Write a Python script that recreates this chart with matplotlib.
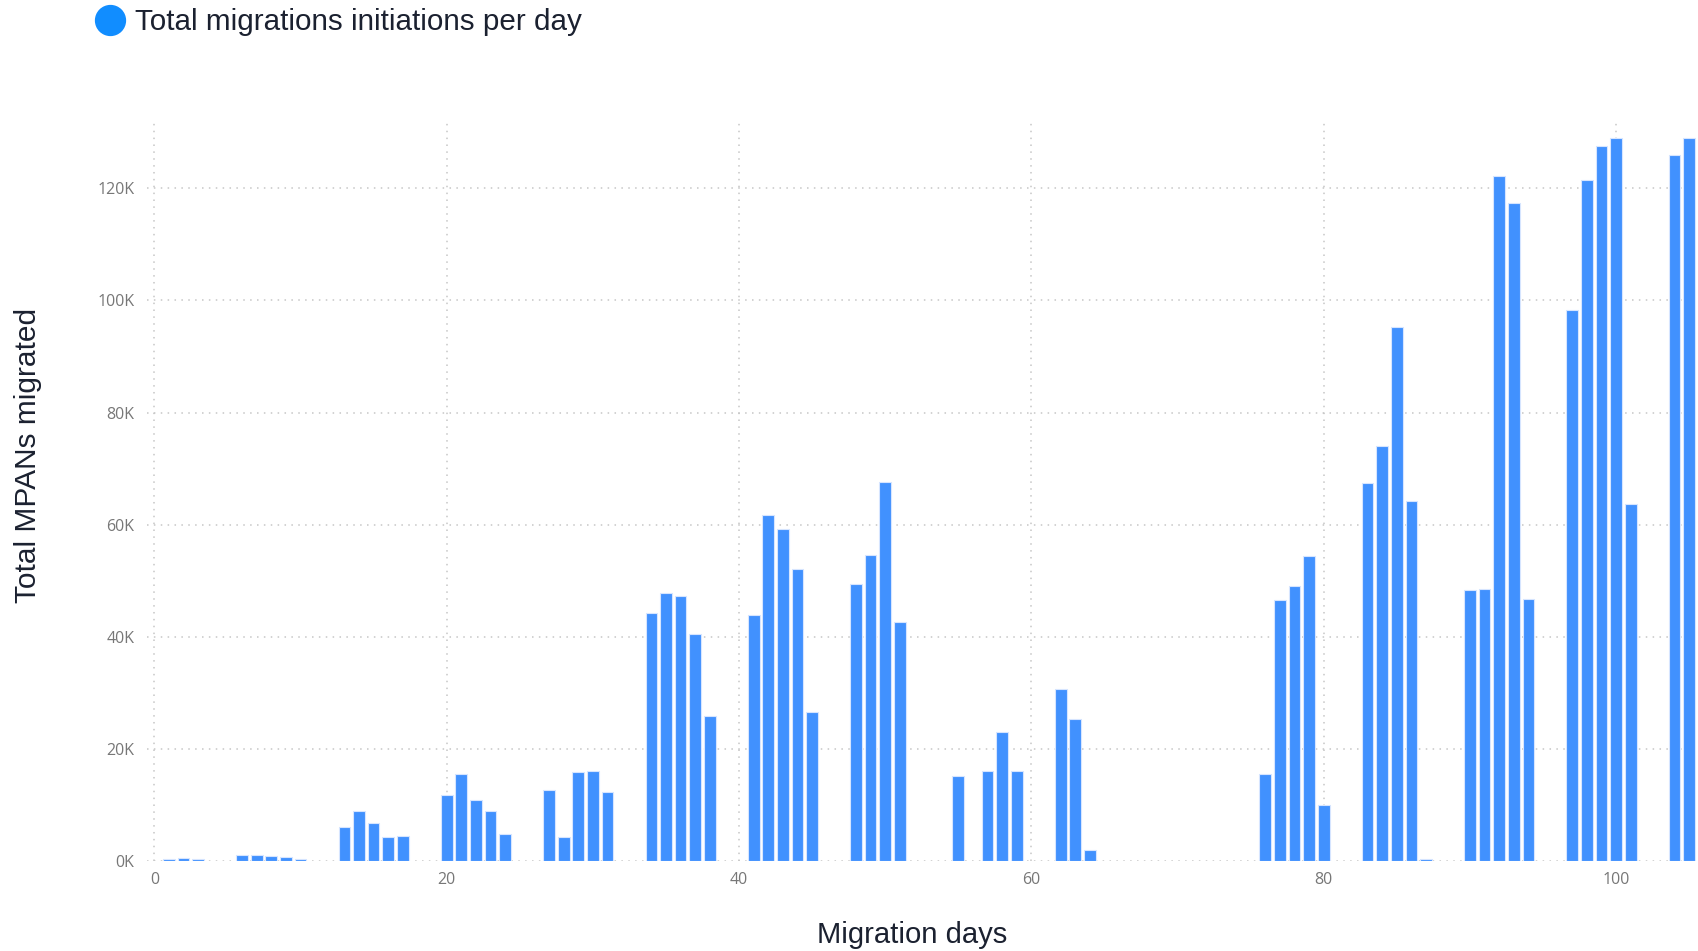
import matplotlib
matplotlib.use("Agg")
import matplotlib.pyplot as plt
from matplotlib.lines import Line2D
from matplotlib.ticker import FuncFormatter

# days with migrations and the count per day
days = [1, 2, 3, 6, 7, 8, 9, 10, 13, 14, 15, 16, 17, 20, 21, 22, 23, 24,
        27, 28, 29, 30, 31, 34, 35, 36, 37, 38, 41, 42, 43, 44, 45,
        48, 49, 50, 51, 55, 57, 58, 59, 62, 63, 64,
        76, 77, 78, 79, 80, 83, 84, 85, 86, 87, 90, 91, 92, 93, 94,
        97, 98, 99, 100, 101, 104, 105]
migrations = [300, 550, 300, 1070, 1130, 830, 710, 300,
              6070, 8900, 6800, 4200, 4500,
              11700, 15600, 10800, 8900, 4760,
              12700, 4300, 15800, 16000, 12300,
              44300, 47800, 47300, 40500, 25800,
              43800, 61800, 59200, 52000, 26600,
              49500, 54600, 67600, 42600,
              15200, 16100, 23100, 16000,
              30700, 25400, 2000,
              15500, 46600, 49100, 54400, 10000,
              67500, 74000, 95200, 64200, 300,
              48400, 48600, 122200, 117300, 46700,
              98300, 121400, 127600, 128900, 63600,
              126000, 128900]

legend_label = "Total migrations initiations per day"
x_title = "Migration days"
y_title = "Total MPANs migrated"
x_ticks = [0, 20, 40, 60, 80, 100]
y_ticks = [0, 20000, 40000, 60000, 80000, 100000, 120000]

bar_color = "#4191FE"
text_color = "#1b2130"
tick_color = "#777777"

fig = plt.figure(figsize=(16.98, 9.51), dpi=100)
ax = fig.add_axes([0.0866, 0.0946, 0.9134, 0.7782])

ax.bar(days, migrations, width=0.8, color=bar_color, edgecolor="#d6e5ff",
       linewidth=0.8, zorder=3)

ax.set_xlim(-0.5, 105.6)
ax.set_ylim(0, 132000)
ax.set_xticks(x_ticks)
ax.set_yticks(y_ticks)
ax.yaxis.set_major_formatter(FuncFormatter(lambda v, p: f"{int(v / 1000)}K"))

ax.grid(True, color="#c6c6c6", linestyle=(0, (1, 3.5)), linewidth=1.1, zorder=0)
for s in ax.spines.values():
    s.set_visible(False)
ax.tick_params(length=0, colors=tick_color, labelsize=11.5)
ax.tick_params(axis="y", pad=9)
ax.tick_params(axis="x", pad=8)
for lab in ax.get_xticklabels() + ax.get_yticklabels():
    lab.set_family(["Open Sans", "DejaVu Sans"])

# legend at the top
fig.add_artist(Line2D([0.0648], [0.979], marker="o", markersize=21.5,
                      color="#118DFF", transform=fig.transFigure))
fig.text(0.0795, 0.968, legend_label, fontsize=21.3, color=text_color,
         family=["Liberation Sans", "DejaVu Sans"], va="baseline", ha="left")

fig.text(0.0165, 0.521, y_title, rotation=90, fontsize=21.5, color=text_color,
         family=["Liberation Sans", "DejaVu Sans"], va="center", ha="center")
fig.text(0.537, 0.008, x_title, fontsize=21.1, color=text_color,
         family=["Liberation Sans", "DejaVu Sans"], va="baseline", ha="center")

fig.savefig("out.png", dpi=100)
